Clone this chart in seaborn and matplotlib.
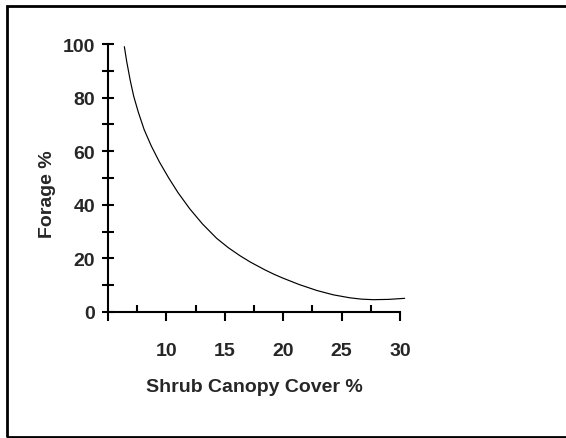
import matplotlib
matplotlib.use("Agg")
import matplotlib.pyplot as plt
from matplotlib.patches import Rectangle
import seaborn as sns
import pandas as pd

# values
shrub_cover = [6.4, 6.6, 6.9, 7.2, 7.6, 8.1, 8.7, 9.4, 10.2, 11.0, 12.0, 13.1, 14.3, 15.3,
               16.3, 17.2, 18.4, 19.2, 20.0, 21.4, 22.9, 24.3, 25.7, 26.7, 27.7, 29.0, 30.4]
forage = [99.0, 93.5, 86.5, 80.5, 74.5, 68.0, 62.0, 56.0, 50.0, 44.5, 38.5, 32.8, 27.5, 24.0,
          21.0, 18.6, 15.8, 14.1, 12.6, 10.2, 8.0, 6.4, 5.3, 4.8, 4.6, 4.7, 5.1]

x_major = [5, 10, 15, 20, 25, 30]
x_labels = ["", "10", "15", "20", "25", "30"]
x_minor = [7.5, 12.5, 17.5, 22.5, 27.5]
y_major = [0, 20, 40, 60, 80, 100]
y_minor = [10, 30, 50, 70, 90]


def main():
    sns.set_style("ticks")
    plt.rcParams['font.family'] = ['Liberation Sans', 'DejaVu Sans']
    df = pd.DataFrame({"cover": shrub_cover, "forage": forage})

    fig = plt.figure(figsize=(5.66, 4.39), dpi=100)
    ax = fig.add_axes([108 / 566, 1 - 313 / 439, 292 / 566, 268 / 439])

    sns.lineplot(data=df, x="cover", y="forage", color="black", lw=0.85, ax=ax, clip_on=False)

    ax.set_xlim(5, 30)
    ax.set_ylim(0, 100)
    ax.set_xticks(x_major)
    ax.set_xticklabels(x_labels)
    ax.set_xticks(x_minor, minor=True)
    ax.set_yticks(y_major)
    ax.set_yticks(y_minor, minor=True)

    sns.despine(ax=ax)
    for side in ["left", "bottom"]:
        ax.spines[side].set_linewidth(1.5)
        ax.spines[side].set_color("black")

    # x: major ticks point out, minor ticks point in; y: ticks cross the axis
    ax.tick_params(axis="x", which="major", direction="out", length=6.5, width=1.5, pad=15, color="black")
    ax.tick_params(axis="x", which="minor", direction="in", length=5, width=1.5, color="black")
    ax.tick_params(axis="y", which="both", direction="inout", length=8.6, width=1.5, pad=5, color="black")
    for lab in ax.get_xticklabels() + ax.get_yticklabels():
        lab.set_fontsize(14)
        lab.set_fontweight("bold")

    ax.set_xlabel("Shrub Canopy Cover %", fontsize=14, fontweight="bold")
    ax.set_ylabel("Forage %", fontsize=14, fontweight="bold")
    ax.xaxis.set_label_coords(0.5, -0.246)
    ax.yaxis.set_label_coords(-0.178, 0.444)

    # frame around the figure (right side falls outside the picture)
    fig.add_artist(Rectangle((7.3 / 566, 1 - 438 / 439), 1.2, (438 - 7.3) / 439,
                             transform=fig.transFigure, fill=False, lw=2, ec="black"))

    fig.savefig("out.png", dpi=100)


if __name__ == '__main__':
    main()
